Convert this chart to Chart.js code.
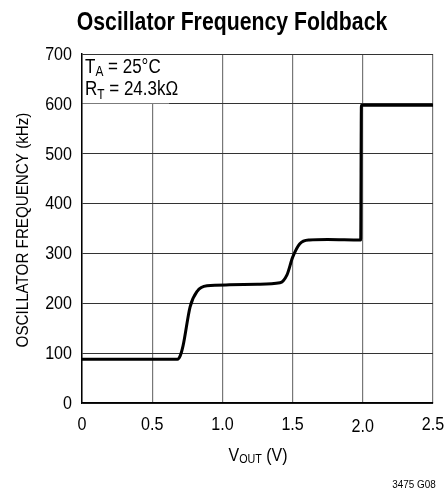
<!DOCTYPE html>
<html>
<head>
<meta charset="utf-8">
<script src="https://cdn.jsdelivr.net/npm/chart.js@4/dist/chart.umd.min.js"></script>
<style>
  html, body { margin: 0; padding: 0; background: #fff; }
  #wrap { width: 446px; height: 489px; position: relative; }
</style>
</head>
<body>
<div id="wrap"><canvas id="c" width="446" height="489"></canvas></div>
<script>
// curve: VOUT (V) -> oscillator frequency (kHz)
const vout = [0, 0.68, 0.70, 0.72, 0.77, 0.82, 0.89, 1.05, 1.25, 1.41, 1.46, 1.50, 1.55, 1.62, 1.75, 1.985, 1.99, 2.5];
const freq = [88, 88, 95, 115, 193, 224, 235, 237, 238, 241, 257, 292, 319, 327, 328, 327, 597, 597];
const xTicks = [0, 0.5, 1.0, 1.5, 2.0, 2.5];
const xTickLabels = ['0', '0.5', '1.0', '1.5', '2.0', '2.5'];
const yTicks = [0, 100, 200, 300, 400, 500, 600, 700];

const FONT = '"Liberation Sans", Arial, sans-serif';

// draws runs of text (some as subscripts), squeezed horizontally by sx
// parts: [[text, size, dy, bold]]
function runs(ctx, parts, x, y, align, sx) {
  let w = 0;
  for (const [t, size, , bold] of parts) {
    ctx.font = `${bold ? 'bold ' : ''}${size}px ${FONT}`;
    w += ctx.measureText(t).width;
  }
  ctx.save();
  ctx.translate(x, y);
  ctx.scale(sx, 1);
  let cx = align === 'center' ? -w / 2 : align === 'right' ? -w : 0;
  ctx.textAlign = 'left';
  for (const [t, size, dy, bold] of parts) {
    ctx.font = `${bold ? 'bold ' : ''}${size}px ${FONT}`;
    ctx.fillText(t, cx, dy || 0);
    cx += ctx.measureText(t).width;
  }
  ctx.restore();
}

const labels = {
  id: 'labels',
  beforeDatasetsDraw(chart) {
    // white box behind the conditions note
    const { ctx, scales: { x, y } } = chart;
    ctx.save();
    ctx.fillStyle = '#fff';
    const l = x.getPixelForValue(0) + 1, t = y.getPixelForValue(700) + 1;
    ctx.fillRect(l, t, x.getPixelForValue(0.62) - l, y.getPixelForValue(600) - t - 0.5);
    ctx.restore();
  },
  afterDraw(chart) {
    const { ctx, scales: { x, y } } = chart;
    ctx.save();
    ctx.fillStyle = '#000';
    ctx.textBaseline = 'alphabetic';

    // title
    runs(ctx, [['Oscillator Frequency Foldback', 25, 0, true]], 232, 30, 'center', 0.85);

    // conditions
    runs(ctx, [['T', 20], ['A', 14, 3.5], [' = 25°C', 20]], 85, 72.5, 'left', 0.85);
    runs(ctx, [['R', 20], ['T', 14, 3.5], [' = 24.3kΩ', 20]], 85, 95, 'left', 0.85);

    // tick labels
    ctx.textBaseline = 'middle';
    yTicks.forEach(v => runs(ctx, [[String(v), 17.5]], 72, y.getPixelForValue(v) + 1, 'right', 0.92));
    ctx.textBaseline = 'alphabetic';
    xTicks.forEach((v, i) => runs(ctx, [[xTickLabels[i], 17.5]], x.getPixelForValue(v), v === 2 ? 431.5 : 430, 'center', 0.92));

    // x title
    runs(ctx, [['V', 18.5], ['OUT', 12.5, 2], [' (V)', 18.5]], 258, 461, 'center', 0.86);

    // y title
    ctx.save();
    ctx.translate(28, 230);
    ctx.rotate(-Math.PI / 2);
    runs(ctx, [['OSCILLATOR FREQUENCY (kHz)', 16.5]], 0, 0, 'center', 0.92);
    ctx.restore();

    // figure note
    runs(ctx, [['3475 G08', 11.5]], 414, 488, 'center', 0.86);
    ctx.restore();
  }
};

new Chart(document.getElementById('c'), {
  type: 'scatter',
  data: {
    datasets: [{
      data: vout.map((v, i) => ({ x: v, y: freq[i] })),
      showLine: true,
      borderColor: '#000',
      borderWidth: 3,
      pointRadius: 0,
      cubicInterpolationMode: 'monotone',
      fill: false
    }]
  },
  options: {
    responsive: false,
    animation: false,
    devicePixelRatio: 1,
    layout: { autoPadding: false, padding: { top: 54, right: 13, left: 0, bottom: 0 } },
    plugins: { legend: { display: false }, tooltip: { enabled: false } },
    scales: {
      x: {
        type: 'linear', min: 0, max: 2.5,
        afterFit: s => { s.height = 86; },
        afterBuildTicks: s => { s.ticks = xTicks.map(v => ({ value: v })); },
        ticks: { display: false },
        grid: { color: '#777', lineWidth: 1.2, drawTicks: false },
        border: { color: '#000', width: 1.5 }
      },
      y: {
        type: 'linear', min: 0, max: 700,
        afterFit: s => { s.width = 82; },
        afterBuildTicks: s => { s.ticks = yTicks.map(v => ({ value: v })); },
        ticks: { display: false },
        grid: { color: '#333', lineWidth: 1, drawTicks: false },
        border: { color: '#000', width: 1.5 }
      }
    }
  },
  plugins: [labels]
});
</script>
</body>
</html>
